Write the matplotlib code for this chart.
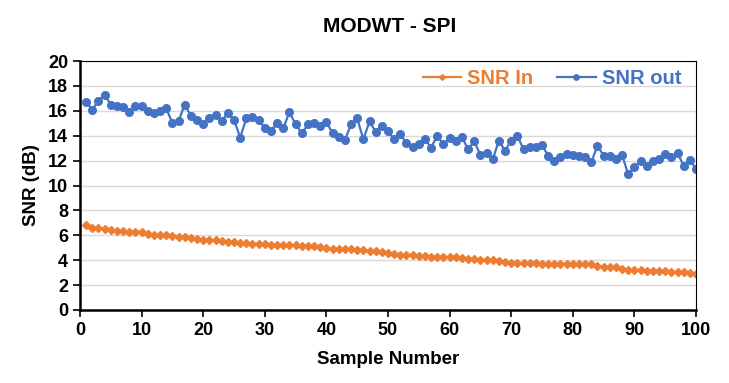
import numpy as np
import matplotlib.pyplot as plt

plt.rcParams['font.family'] = ['Liberation Sans', 'DejaVu Sans']

samples = np.arange(1, 101)

snr_in = [6.85, 6.6, 6.55, 6.5, 6.43, 6.38, 6.32, 6.3, 6.3, 6.27,
          6.1, 6.05, 6.05, 6.02, 5.94, 5.9, 5.84, 5.82, 5.73, 5.65,
          5.62, 5.6, 5.52, 5.5, 5.47, 5.41, 5.36, 5.33, 5.31, 5.28,
          5.25, 5.22, 5.2, 5.2, 5.2, 5.17, 5.14, 5.12, 5.06, 4.98,
          4.9, 4.87, 4.87, 4.87, 4.84, 4.81, 4.76, 4.73, 4.62, 4.6,
          4.52, 4.44, 4.42, 4.42, 4.34, 4.31, 4.29, 4.29, 4.26, 4.23,
          4.23, 4.21, 4.1, 4.07, 4.04, 4.04, 4.04, 3.94, 3.86, 3.8,
          3.77, 3.77, 3.75, 3.75, 3.72, 3.72, 3.72, 3.72, 3.72, 3.69,
          3.69, 3.69, 3.66, 3.53, 3.42, 3.42, 3.42, 3.32, 3.21, 3.21,
          3.19, 3.16, 3.13, 3.1, 3.1, 3.08, 3.05, 3.02, 3.0, 2.92]

snr_out = [16.7, 16.1, 16.8, 17.3, 16.5, 16.4, 16.3, 15.9, 16.4, 16.4,
           16.0, 15.85, 16.0, 16.2, 15.0, 15.2, 16.5, 15.6, 15.3, 14.9,
           15.45, 15.7, 15.2, 15.8, 15.3, 13.85, 15.4, 15.5, 15.3, 14.6,
           14.4, 15.0, 14.6, 15.9, 14.9, 14.2, 14.9, 15.0, 14.8, 15.1,
           14.2, 13.9, 13.65, 14.9, 15.4, 13.7, 15.15, 14.3, 14.8, 14.4,
           13.7, 14.1, 13.4, 13.1, 13.3, 13.7, 13.05, 14.0, 13.3, 13.8,
           13.6, 13.9, 12.9, 13.55, 12.45, 12.6, 12.1, 13.6, 12.8, 13.6,
           14.0, 12.9, 13.1, 13.1, 13.25, 12.4, 11.95, 12.25, 12.5, 12.45,
           12.35, 12.25, 11.85, 13.2, 12.4, 12.4, 12.1, 12.45, 10.9, 11.45,
           11.95, 11.55, 12.0, 12.1, 12.5, 12.3, 12.6, 11.6, 12.05, 11.35]

orange = '#ED7D31'
blue = '#4472C4'

fig = plt.figure(figsize=(7.29, 3.83), dpi=100)
ax = fig.add_axes([80 / 729, 73 / 383, 616 / 729, 249 / 383])

ax.plot(samples, snr_in, color=orange, lw=1.6, marker='D', ms=4.2, label='SNR In')
ax.plot(samples, snr_out, color=blue, lw=1.6, marker='o', ms=5.5, label='SNR out')

ax.set_xlim(0, 100)
ax.set_ylim(0, 20)
ax.set_xticks(np.arange(0, 101, 10))
ax.set_yticks(np.arange(0, 21, 2))
ax.yaxis.grid(True, color='#D9D9D9', lw=1)
ax.set_axisbelow(True)

for s in ['left', 'bottom']:
    ax.spines[s].set_linewidth(1.8)
for s in ['top', 'right']:
    ax.spines[s].set_linewidth(0.8)

ax.tick_params(axis='both', labelsize=13, width=1.2, length=5, direction='out')
for lab in ax.get_xticklabels() + ax.get_yticklabels():
    lab.set_fontweight('bold')

ax.set_xlabel('Sample Number', fontsize=13.5, fontweight='bold', labelpad=9)
ax.set_ylabel('SNR (dB)', fontsize=13.5, fontweight='bold', labelpad=6)
fig.suptitle('MODWT - SPI', fontsize=15, fontweight='bold', x=0.535, y=0.955)

leg = ax.legend(loc='upper right', ncol=2, frameon=False, fontsize=14.5,
                handlelength=1.9, columnspacing=1.2, handletextpad=0.3,
                bbox_to_anchor=(1.005, 1.04), markerscale=0.7)
for txt, c in zip(leg.get_texts(), [orange, blue]):
    txt.set_color(c)
    txt.set_fontweight('bold')

fig.savefig('out.png', dpi=100)
